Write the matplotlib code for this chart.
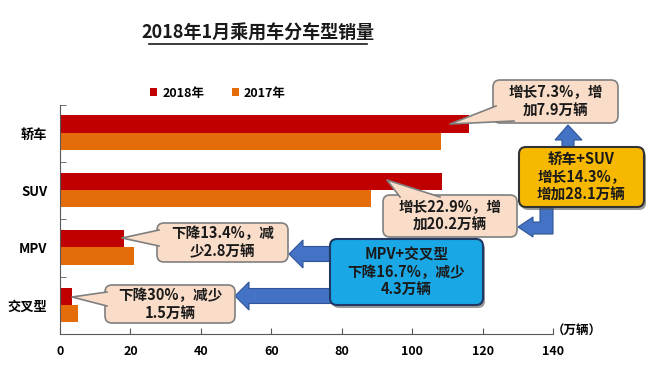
import matplotlib
matplotlib.use("Agg")
import matplotlib.pyplot as plt
from matplotlib.patches import FancyBboxPatch, Polygon, Patch
from matplotlib.lines import Line2D

plt.rcParams['font.family'] = ['Noto Sans CJK SC', 'DejaVu Sans']

categories = ['轿车', 'SUV', 'MPV', '交叉型']
sales_2018 = [116.1, 108.4, 18.1, 3.5]
sales_2017 = [108.2, 88.2, 20.9, 5.0]
xticks = [0, 20, 40, 60, 80, 100, 120, 140]

red = '#C00000'
orange = '#E46C0A'
peach = '#FADDC8'
arrow_blue = '#4472C4'

fig = plt.figure(figsize=(6.6, 3.75), dpi=100)
ax = fig.add_axes([60/660, 1-334/375, 493/660, (334-104.5)/375])

ypos = list(range(len(categories)))
ax.barh([y - 0.16 for y in ypos], sales_2018, height=0.3, color=red, label='2018年')
ax.barh([y + 0.14 for y in ypos], sales_2017, height=0.3, color=orange, label='2017年')

ax.set_xlim(0, 140)
ax.set_ylim(3.5, -0.5)
ax.set_xticks(xticks)
ax.set_xticklabels([str(v) for v in xticks], fontsize=9, fontweight='bold')
ax.set_yticks(ypos)
ax.set_yticklabels(categories, fontsize=9.5, fontweight='bold')
ax.set_yticks([-0.5, 0.5, 1.5, 2.5, 3.5], minor=True)
ax.tick_params(axis='y', which='major', length=0, pad=9)
ax.tick_params(axis='y', which='minor', length=4, direction='in', color='#595959')
ax.tick_params(axis='x', length=4, direction='in', color='#595959', pad=8)
for s in ['top', 'right']:
    ax.spines[s].set_visible(False)
for s in ['left', 'bottom']:
    ax.spines[s].set_color('#595959')

ax.legend(ncol=2, loc='center', bbox_to_anchor=(218/660, 1-93/375), bbox_transform=fig.transFigure,
          frameon=False, handlelength=0.55, handleheight=0.55, handletextpad=0.4, columnspacing=2.2,
          prop={'size': 9, 'weight': 'bold'})

T = fig.dpi_scale_trans


def P(x, y):
    return (x/100, (375-y)/100)


# title with underline
fig.text(*P(258, 33), '2018年1月乘用车分车型销量', transform=T, ha='center', va='center',
         fontsize=13, fontweight='bold', color='#1a1a1a')
fig.add_artist(Line2D([149/100, 367/100], [(375-44)/100]*2, transform=T, color='#1a1a1a', lw=1.2))

fig.text(*P(577, 331), '（万辆）', transform=T, ha='center', va='center', fontsize=9, fontweight='bold')


def box(x0, y0, x1, y1, fc, ec, lw=1.0, shadow=False):
    if shadow:
        fig.add_artist(FancyBboxPatch(P(x0+2, y1+3), (x1-x0)/100, (y1-y0)/100,
                                      boxstyle='round,pad=0,rounding_size=0.07', transform=T,
                                      fc='#555555', ec='none', alpha=0.6))
    fig.add_artist(FancyBboxPatch(P(x0, y1), (x1-x0)/100, (y1-y0)/100,
                                  boxstyle='round,pad=0,rounding_size=0.07', transform=T,
                                  fc=fc, ec=ec, lw=lw))


def callout(x0, y0, x1, y1, tip, b1, b2, text):
    box(x0, y0, x1, y1, peach, '#7F7F7F', 1.2)
    fig.add_artist(Polygon([P(*b1), P(*tip), P(*b2)], closed=True, transform=T, fc=peach, ec='none'))
    fig.add_artist(Line2D([b1[0]/100, tip[0]/100, b2[0]/100],
                          [(375-b1[1])/100, (375-tip[1])/100, (375-b2[1])/100],
                          transform=T, color='#7F7F7F', lw=1.2))
    fig.text(*P((x0+x1)/2, (y0+y1)/2), text, transform=T, ha='center', va='center',
             fontsize=10.5, fontweight='bold', linespacing=1.15, color='#1a1a1a')


def arrow(pts):
    fig.add_artist(Polygon([P(*p) for p in pts], closed=True, transform=T,
                           fc=arrow_blue, ec='#2F5597', lw=0.8))


# left arrows from blue box
arrow([(289, 254), (303, 240), (303, 246.5), (340, 246.5), (340, 261.5), (303, 261.5), (303, 268)])
arrow([(235, 296), (249, 282), (249, 288.5), (340, 288.5), (340, 303.5), (249, 303.5), (249, 310)])
# up arrow and elbow arrow from gold box
arrow([(568, 125), (582, 140), (574, 140), (574, 150), (562, 150), (562, 140), (555, 140)])
arrow([(518, 227), (533, 217), (533, 222), (540, 222), (540, 204), (553, 204), (553, 234),
       (533, 234), (533, 237)])

callout(493, 80, 618, 123, (450, 124), (496, 106), (514, 121), '增长7.3%，增\n加7.9万辆')
callout(383, 195, 517, 237, (387, 180), (400, 197), (440, 197), '增长22.9%，增\n加20.2万辆')
callout(157, 223, 288, 262, (122, 238), (159, 230), (159, 246), '下降13.4%，减\n少2.8万辆')
callout(105, 285, 235, 323, (72, 297), (107, 292), (107, 306), '下降30%，减少\n1.5万辆')

box(330, 239, 483, 305, '#1AA7E6', '#1F3864', 1.5, shadow=True)
fig.text(*P(406.5, 272), 'MPV+交叉型\n下降16.7%，减少\n4.3万辆', transform=T, ha='center', va='center',
         fontsize=10.5, fontweight='bold', linespacing=1.1, color='#1a1a1a')

box(519, 147, 644, 207, '#F6B800', '#333333', 1.5, shadow=True)
fig.text(*P(581.5, 177), '轿车+SUV\n增长14.3%，\n增加28.1万辆', transform=T, ha='center', va='center',
         fontsize=10.5, fontweight='bold', linespacing=1.1, color='#1a1a1a')

fig.savefig('out.png', dpi=100)
